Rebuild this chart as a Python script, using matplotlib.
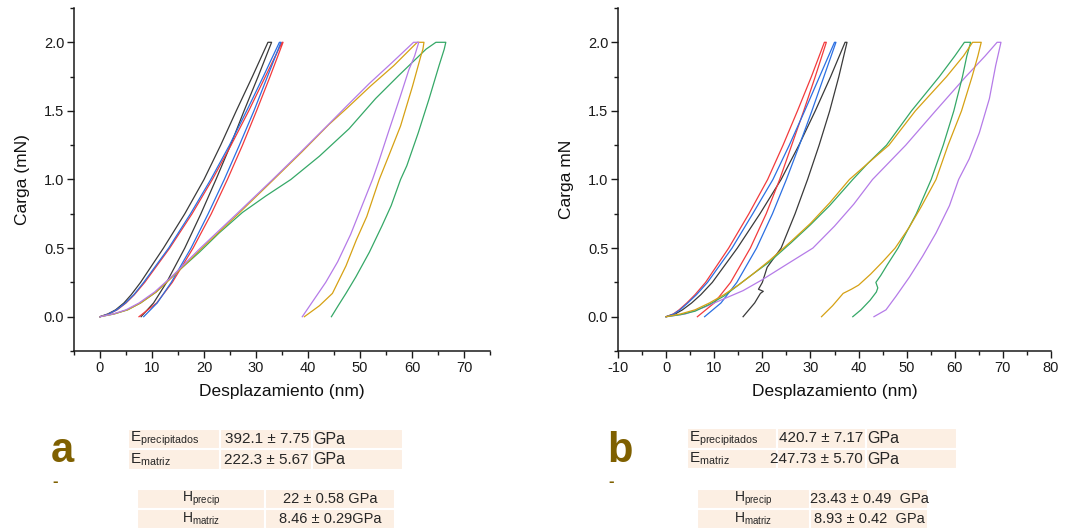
import matplotlib
matplotlib.use("Agg")
import matplotlib.pyplot as plt
from matplotlib.patches import Rectangle
from matplotlib.ticker import MultipleLocator, FormatStrFormatter

plt.rcParams['font.family'] = ['Liberation Sans', 'DejaVu Sans']
plt.rcParams['mathtext.fontset'] = 'custom'
plt.rcParams['mathtext.rm'] = 'Liberation Sans'
plt.rcParams['mathtext.it'] = 'Liberation Sans'
plt.rcParams['axes.unicode_minus'] = False

# ---- panel a: load / unload curves (nm, mN) ----
a_black_x = [0, 1.5, 3.0, 4.6, 6.0, 7.8, 12.2, 16.3, 20.0, 23.2, 26.2, 29.3, 32.3, 33.0,
             30.4, 27.7, 25.1, 22.3, 19.4, 16.3, 12.8, 10.3, 7.9]
a_black_y = [0, 0.02, 0.05, 0.1, 0.16, 0.25, 0.5, 0.75, 1.0, 1.25, 1.5, 1.75, 2.0, 2.0,
             1.75, 1.5, 1.25, 1.0, 0.75, 0.5, 0.25, 0.1, 0]
a_red_x = [0, 1.7, 3.3, 5.0, 6.6, 8.6, 13.4, 17.7, 21.6, 25.2, 28.6, 31.8, 35.0, 35.2,
           32.7, 30.1, 27.4, 24.5, 21.4, 17.9, 13.9, 10.9, 7.5]
a_red_y = a_black_y
a_blue_x = [0, 1.7, 3.2, 4.9, 6.5, 8.4, 13.2, 17.4, 21.3, 24.9, 28.2, 31.4, 34.5, 34.8,
            32.2, 29.6, 26.8, 23.9, 20.8, 17.5, 13.7, 11.0, 8.4]
a_blue_y = a_black_y
a_purple_x = [0, 2.5, 5.0, 7.5, 10.5, 14.0, 19.3, 26.3, 33.2, 38.6, 43.9, 47.3, 51.8, 56.1, 60.3, 61.3,
              60.5, 59.4, 57.7, 55.5, 53.6, 52.4, 50.3, 48.2, 45.7, 43.4, 41.6, 38.9]
a_purple_y = [0, 0.02, 0.05, 0.1, 0.18, 0.3, 0.5, 0.75, 1.0, 1.2, 1.4, 1.53, 1.7, 1.85, 2.0, 2.0,
              1.9, 1.8, 1.6, 1.35, 1.13, 1.0, 0.8, 0.6, 0.4, 0.25, 0.15, 0]
a_gold_x = [0, 2.7, 5.3, 7.8, 10.8, 14.2, 19.6, 26.6, 33.4, 38.8, 44.0, 47.5, 52.0, 56.5, 61.0, 62.3,
            62.1, 61.7, 60.1, 57.8, 55.5, 53.7, 51.3, 49.3, 47.3, 44.7, 42.2, 39.3]
a_gold_y = [0, 0.02, 0.05, 0.1, 0.18, 0.3, 0.5, 0.75, 1.0, 1.2, 1.4, 1.52, 1.68, 1.83, 2.0, 2.0,
            1.95, 1.9, 1.68, 1.39, 1.17, 1.0, 0.73, 0.56, 0.37, 0.17, 0.08, 0]
a_green_x = [0, 2.7, 5.3, 7.8, 10.8, 14.4, 19.1, 22.9, 27.4, 31.9, 36.7, 42.2, 47.9, 53.0, 57.5, 62.7,
             64.6, 66.5, 66.2, 65.2, 63.3, 61.2, 59.0, 57.8, 56.0, 54.2, 51.8, 49.2, 47.3, 45.8, 44.5]
a_green_y = [0, 0.02, 0.05, 0.1, 0.18, 0.31, 0.47, 0.61, 0.76, 0.88, 1.0, 1.17, 1.37, 1.59, 1.76, 1.95,
             2.0, 2.0, 1.95, 1.83, 1.59, 1.34, 1.1, 1.0, 0.81, 0.66, 0.47, 0.29, 0.17, 0.08, 0]

# ---- panel b ----
b_red_x = [0, 1.5, 2.7, 4.3, 6.0, 8.2, 13.0, 17.2, 21.1, 24.3, 27.3, 30.2, 32.9, 33.3,
           31.0, 28.6, 26.1, 23.6, 20.8, 17.5, 13.4, 10.0, 6.5]
b_red_y = [0, 0.02, 0.05, 0.1, 0.16, 0.25, 0.5, 0.75, 1.0, 1.25, 1.5, 1.75, 2.0, 2.0,
           1.75, 1.5, 1.25, 1.0, 0.75, 0.5, 0.25, 0.1, 0]
b_blue_x = [0, 1.6, 2.9, 4.5, 6.3, 8.6, 13.7, 18.0, 22.2, 25.6, 28.8, 31.9, 35.0, 35.3,
            32.8, 30.3, 27.7, 25.0, 22.1, 18.8, 14.7, 11.4, 8.0]
b_blue_y = b_red_y
b_black_x = [0, 1.9, 3.4, 5.3, 7.2, 9.6, 14.8, 19.5, 23.9, 27.6, 31.0, 34.2, 37.2, 37.6,
             35.9, 34.0, 31.8, 29.4, 26.8, 23.9, 21.0, 20.0, 19.2, 20.2, 19.6, 18.4, 16.0]
b_black_y = [0, 0.02, 0.05, 0.1, 0.16, 0.25, 0.5, 0.75, 1.0, 1.25, 1.5, 1.75, 2.0, 2.0,
             1.75, 1.5, 1.25, 1.0, 0.75, 0.5, 0.36, 0.25, 0.2, 0.185, 0.17, 0.1, 0]
b_gold_x = [0, 3, 6, 9, 12, 15, 18, 21.5, 26, 30, 34, 38.1, 42, 46.3, 51.8, 58.3, 61.8, 63.7, 65.5,
            64.8, 63.6, 61.4, 58.6, 56.1, 53.0, 50.5, 47.6, 45.0, 42.5, 40.0, 38.5, 36.8, 34.6, 32.3]
b_gold_y = [0, 0.02, 0.05, 0.1, 0.16, 0.23, 0.31, 0.41, 0.55, 0.68, 0.83, 1.0, 1.12, 1.25, 1.5, 1.75, 1.9, 2.0, 2.0,
            1.9, 1.75, 1.5, 1.25, 1.0, 0.8, 0.65, 0.5, 0.4, 0.31, 0.23, 0.2, 0.17, 0.08, 0]
b_green_x = [0, 3, 6, 9, 12, 15, 18, 21.5, 26, 30, 34, 38.8, 42, 45.8, 51.0, 56.8, 60.0, 62.0, 63.3,
             62.5, 61.6, 59.8, 57.6, 55.1, 52.0, 48.2, 46.0, 44.6, 43.6, 44.0, 43.7, 42.4, 40.5, 38.8]
b_green_y = [0, 0.015, 0.04, 0.09, 0.15, 0.23, 0.31, 0.40, 0.54, 0.67, 0.81, 1.0, 1.12, 1.25, 1.5, 1.75, 1.9, 2.0, 2.0,
             1.9, 1.75, 1.5, 1.25, 1.0, 0.75, 0.5, 0.38, 0.3, 0.25, 0.21, 0.18, 0.12, 0.05, 0]
b_purple_x = [0, 4, 8, 12, 16, 20, 25, 30.5, 35, 39, 42.9, 49.8, 56.0, 62.3, 66.3, 68.8, 69.6,
              68.5, 67.2, 65.1, 63.0, 60.8, 58.9, 56.1, 53.3, 50.6, 47.8, 45.7, 43.2]
b_purple_y = [0, 0.02, 0.07, 0.13, 0.19, 0.27, 0.38, 0.5, 0.66, 0.82, 1.0, 1.25, 1.5, 1.75, 1.9, 2.0, 2.0,
              1.83, 1.59, 1.34, 1.15, 1.0, 0.81, 0.61, 0.44, 0.29, 0.15, 0.05, 0]

# ---- text of the tables ----
a_E = [("E$_{\\mathrm{precipitados}}$", "392.1 \u00b1 7.75", "GPa"),
       ("E$_{\\mathrm{matriz}}$", "222.3 \u00b1 5.67", "GPa")]
a_H = [("H$_{\\mathrm{precip}}$", "22 \u00b1 0.58 GPa"),
       ("H$_{\\mathrm{matriz}}$", "8.46 \u00b1 0.29GPa")]
b_E = [("E$_{\\mathrm{precipitados}}$", "420.7 \u00b1 7.17", "GPa"),
       ("E$_{\\mathrm{matriz}}$", "247.73 \u00b1 5.70", "GPa")]
b_H = [("H$_{\\mathrm{precip}}$", "23.43 \u00b1 0.49  GPa"),
       ("H$_{\\mathrm{matriz}}$", "8.93 \u00b1 0.42  GPa")]

colors = {'black': '#3a3a3a', 'red': '#f23a3c', 'blue': '#2b6fe2',
          'purple': '#b57be8', 'gold': '#d6a114', 'green': '#35a867'}

W, H = 1071, 531
fig = plt.figure(figsize=(W / 100, H / 100), dpi=100)


def fx(x):
    return x / W


def fy(y):
    return 1 - y / H


def setup(ax, xlim, ylabel):
    ax.set_xlim(*xlim)
    ax.set_ylim(-0.25, 2.25)
    for s in ['top', 'right']:
        ax.spines[s].set_visible(False)
    for s in ['left', 'bottom']:
        ax.spines[s].set_linewidth(1.1)
        ax.spines[s].set_color('#1a1a1a')
    ax.xaxis.set_major_locator(MultipleLocator(10))
    ax.xaxis.set_minor_locator(MultipleLocator(5))
    ax.yaxis.set_major_locator(MultipleLocator(0.5))
    ax.yaxis.set_minor_locator(MultipleLocator(0.25))
    ax.yaxis.set_major_formatter(FormatStrFormatter('%.1f'))
    ax.tick_params(which='major', direction='out', length=5, width=1, labelsize=10.5,
                   colors='#1a1a1a', pad=2)
    ax.tick_params(which='minor', direction='out', length=3, width=1, colors='#1a1a1a')
    ax.set_xlabel('Desplazamiento (nm)', fontsize=12.5, color='#111111', labelpad=7)
    ax.set_ylabel(ylabel, fontsize=12.5, color='#111111', labelpad=10)


ax_a = fig.add_axes([fx(74), 180 / H, 416 / W, 343 / H])
ax_b = fig.add_axes([fx(618), 180 / H, 433 / W, 343 / H])

lw = 0.9
ax_a.plot(a_black_x, a_black_y, color=colors['black'], lw=lw)
ax_a.plot(a_red_x, a_red_y, color=colors['red'], lw=lw)
ax_a.plot(a_blue_x, a_blue_y, color=colors['blue'], lw=lw)
ax_a.plot(a_green_x, a_green_y, color=colors['green'], lw=lw)
ax_a.plot(a_gold_x, a_gold_y, color=colors['gold'], lw=lw)
ax_a.plot(a_purple_x, a_purple_y, color=colors['purple'], lw=lw)
setup(ax_a, (-5, 75), 'Carga (mN)')
ax_a.set_xticks(range(0, 80, 10))

ax_b.plot(b_black_x, b_black_y, color=colors['black'], lw=lw)
ax_b.plot(b_red_x, b_red_y, color=colors['red'], lw=lw)
ax_b.plot(b_blue_x, b_blue_y, color=colors['blue'], lw=lw)
ax_b.plot(b_purple_x, b_purple_y, color=colors['purple'], lw=lw)
ax_b.plot(b_green_x, b_green_y, color=colors['green'], lw=lw)
ax_b.plot(b_gold_x, b_gold_y, color=colors['gold'], lw=lw)
setup(ax_b, (-10, 80), 'Carga mN')

# ---- tables ----
cell_fc = '#fcefe3'
txt_c = '#262626'


def cell(x0, y0, x1, y1):
    fig.add_artist(Rectangle((fx(x0), fy(y1)), fx(x1) - fx(x0), fy(y0) - fy(y1),
                             transform=fig.transFigure, facecolor=cell_fc,
                             edgecolor='white', lw=1.5))


def e_table(rows, x0, c1, c2, x1, y0, ym, y1):
    for (ya, yb), (lab, val, unit) in zip([(y0, ym), (ym, y1)], rows):
        cell(x0, ya, c1, yb)
        cell(c1, ya, c2, yb)
        cell(c2, ya, x1, yb)
        yc = (ya + yb) / 2
        fig.text(fx(x0 + 2), fy(yc), lab, fontsize=11, color=txt_c, va='center', ha='left')
        fig.text(fx(c2 - 3), fy(yc), val, fontsize=11, color=txt_c, va='center', ha='right')
        fig.text(fx(c2 + 1), fy(yc), unit, fontsize=11.5, color=txt_c, va='center', ha='left')


def h_table(rows, x0, c1, x1, y0, ym, y1):
    for (ya, yb), (lab, val) in zip([(y0, ym), (ym, y1)], rows):
        cell(x0, ya, c1, yb)
        cell(c1, ya, x1, yb)
        yc = (ya + yb) / 2
        fig.text(fx((x0 + c1) / 2), fy(yc), lab, fontsize=10, color=txt_c, va='center', ha='center')
        fig.text(fx((c1 + x1) / 2), fy(yc), val, fontsize=10.5, color=txt_c, va='center', ha='center')


e_table(a_E, 128, 220, 312, 403, 429, 449.5, 470)
h_table(a_H, 137, 265, 395, 489, 509, 529)
e_table(b_E, 687, 777, 866, 957, 428, 449, 469)
h_table(b_H, 697, 810, 928, 489, 509, 529)

letter_c = '#7f6000'
fig.text(fx(51), fy(462), 'a', fontsize=30, fontweight='bold', color=letter_c, ha='left', va='baseline')
fig.text(fx(607), fy(462), 'b', fontsize=30, fontweight='bold', color=letter_c, ha='left', va='baseline')
fig.text(fx(52), fy(486), '-', fontsize=12, fontweight='bold', color=letter_c, ha='left', va='baseline')
fig.text(fx(608), fy(486), '-', fontsize=12, fontweight='bold', color=letter_c, ha='left', va='baseline')

fig.savefig('out.png', dpi=100, facecolor='white')
